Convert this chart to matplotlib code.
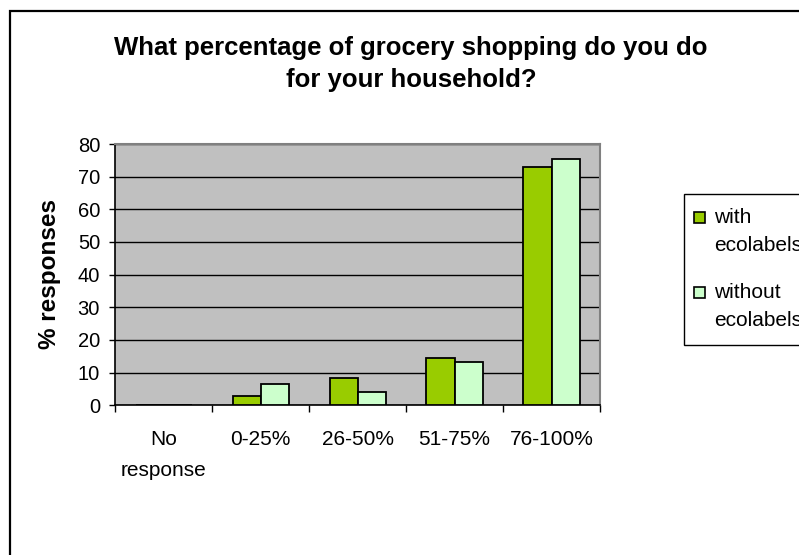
import matplotlib
matplotlib.use("Agg")
import matplotlib.pyplot as plt
from matplotlib.patches import Rectangle
import numpy as np

plt.rcParams['font.family'] = ['Liberation Sans', 'DejaVu Sans']

categories = ["No\nresponse", "0-25%", "26-50%", "51-75%", "76-100%"]
with_eco = [0, 2.9, 8.4, 14.4, 73.0]
without_eco = [0, 6.6, 4.1, 13.3, 75.5]
series_labels = ["with\necolabels", "without\necolabels"]
series_colors = ["#99CC00", "#CCFFCC"]
yticks = [0, 10, 20, 30, 40, 50, 60, 70, 80]
title = "What percentage of grocery shopping do you do\nfor your household?"
ylabel = "% responses"

W, H = 799, 555
fig = plt.figure(figsize=(W / 100, H / 100), dpi=100)

def fx(px):
    return px / W

def fy(py):
    return 1 - py / H

# outer chart border (runs off the right and bottom edges)
fig.patches.append(Rectangle((fx(10), fy(1000)), fx(1000), (1000 - 11) / H,
                             transform=fig.transFigure, fill=False,
                             edgecolor="#000000", linewidth=1.6, zorder=0))

left, right, top, bottom = 115.3, 600, 144, 405.3
ax = fig.add_axes([fx(left), fy(bottom), fx(right - left), (bottom - top) / H])
ax.set_facecolor("#C0C0C0")

x = np.arange(len(categories))
bw = 0.29
ax.bar(x - bw / 2, with_eco, width=bw, color=series_colors[0],
       edgecolor="black", linewidth=1.3, zorder=3)
ax.bar(x + bw / 2, without_eco, width=bw, color=series_colors[1],
       edgecolor="black", linewidth=1.3, zorder=3)

ax.set_xlim(-0.5, len(categories) - 0.5)
ax.set_ylim(0, 80)
ax.set_yticks(yticks)
ax.yaxis.grid(True, color="black", linewidth=1.0, zorder=1)
ax.set_axisbelow(True)

ax.set_xticks(np.arange(-0.5, len(categories), 1.0))
ax.set_xticklabels([])
ax.set_xticks(x, minor=True)
ax.set_xticklabels(categories, minor=True, fontsize=15)
ax.tick_params(axis="x", which="major", direction="out", length=5, width=1)
ax.tick_params(axis="x", which="minor", length=0, pad=18)
for lab in ax.get_xticklabels(minor=True):
    lab.set_verticalalignment("top")
    lab.set_linespacing(1.75)
ax.tick_params(axis="y", direction="out", length=4, width=1, labelsize=14.5, pad=7)

for s in ["top", "right"]:
    ax.spines[s].set_color("#808080")
    ax.spines[s].set_linewidth(1.5)
for s in ["left", "bottom"]:
    ax.spines[s].set_color("black")
    ax.spines[s].set_linewidth(1.2)

fig.text(fx(411), fy(64), title, ha="center", va="center", fontsize=18.5,
         fontweight="bold", linespacing=1.4)
fig.text(fx(50), fy(274), ylabel, rotation=90, ha="center", va="center",
         fontsize=17.5, fontweight="bold")

# legend (clipped by the figure edge like the reference)
fig.patches.append(Rectangle((fx(684), fy(345)), fx(200), (345 - 194) / H,
                             transform=fig.transFigure, facecolor="white",
                             edgecolor="black", linewidth=1.0, zorder=2))
ys = [212, 287]
for i, (lab, col) in enumerate(zip(series_labels, series_colors)):
    y0 = ys[i]
    fig.patches.append(Rectangle((fx(694), fy(y0 + 11)), fx(11), 11 / H,
                                 transform=fig.transFigure, facecolor=col,
                                 edgecolor="black", linewidth=1.2, zorder=3))
    fig.text(fx(714), fy(y0 - 4), lab, ha="left", va="top", fontsize=15,
             linespacing=1.6, zorder=4)

fig.savefig("out.png", dpi=100)
